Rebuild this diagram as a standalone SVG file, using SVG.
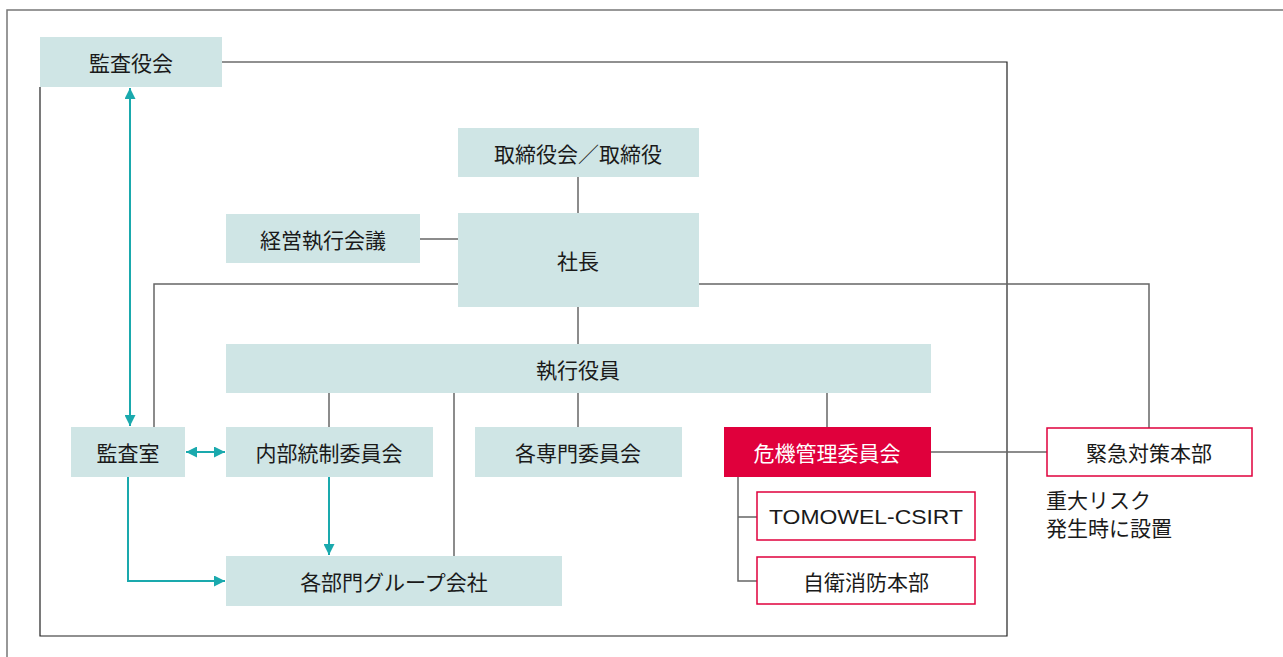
<svg xmlns="http://www.w3.org/2000/svg" width="1283" height="657" viewBox="0 0 1283 657">
<style>
.box{fill:#cfe5e5}
.red{fill:#e0003c}
.rbox{fill:#fff;stroke:#e0003c;stroke-width:1.5}
.t{font-family:"Noto Sans CJK JP","Liberation Sans",sans-serif;font-size:21px;fill:#1a1a1a;text-anchor:middle;dominant-baseline:central}
.lat{font-family:"Liberation Sans","Noto Sans CJK JP",sans-serif}
.w{fill:#fff}
.ln{fill:none;stroke:#666;stroke-width:1.5}
.fr{fill:none;stroke:#777;stroke-width:1.5}
.fb{fill:none;stroke:#222;stroke-width:1.2}
.tl{fill:none;stroke:#1aa9ad;stroke-width:2}
.note{font-family:"Noto Sans CJK JP","Liberation Sans",sans-serif;font-size:21px;fill:#1a1a1a}
</style>
<defs>
<marker id="ah" viewBox="0 0 10 10" refX="10" refY="5" markerWidth="5.5" markerHeight="5.5" orient="auto-start-reverse" markerUnits="strokeWidth">
<path d="M0,0 L10,5 L0,10 z" fill="#1aa9ad"/>
</marker>
</defs>
<rect width="1283" height="657" fill="#fff"/>
<g id="frames">
<path class="fr" d="M7,657 V10 H1290"/>
<path class="fb" d="M222,62 H1007 V636 H40 V87"/>
</g>
<g id="connectors">
<path class="ln" d="M578,177 V213"/>
<path class="ln" d="M420,239 H458"/>
<path class="ln" d="M458,284 H154 V427"/>
<path class="ln" d="M699,284 H1149 V428"/>
<path class="ln" d="M578,307 V344"/>
<path class="ln" d="M329,393 V427"/>
<path class="ln" d="M454,393 V556"/>
<path class="ln" d="M578,393 V427"/>
<path class="ln" d="M827,393 V427"/>
<path class="ln" d="M931,452 H1047"/>
<path class="ln" d="M738,477 V581 H757 M738,517 H757"/>
<path class="tl" d="M130,88 V426" marker-start="url(#ah)" marker-end="url(#ah)"/>
<path class="tl" d="M186,452 H225" marker-start="url(#ah)" marker-end="url(#ah)"/>
<path class="tl" d="M128,477 V581 H225" marker-end="url(#ah)"/>
<path class="tl" d="M329,477 V555" marker-end="url(#ah)"/>
</g>
<g id="n-kansayakukai"><rect class="box" x="40" y="37" width="182" height="50"/><text class="t" x="131" y="62">監査役会</text></g>
<g id="n-torishimariyaku"><rect class="box" x="458" y="128" width="241" height="49"/><text class="t" x="578" y="153">取締役会／取締役</text></g>
<g id="n-keiei"><rect class="box" x="226" y="214" width="194" height="49"/><text class="t" x="323" y="239">経営執行会議</text></g>
<g id="n-shacho"><rect class="box" x="458" y="213" width="241" height="94"/><text class="t" x="578" y="260">社長</text></g>
<g id="n-shikko"><rect class="box" x="226" y="344" width="705" height="49"/><text class="t" x="578" y="369">執行役員</text></g>
<g id="n-kansashitsu"><rect class="box" x="71" y="427" width="114" height="50"/><text class="t" x="128" y="452">監査室</text></g>
<g id="n-naibu"><rect class="box" x="226" y="427" width="207" height="50"/><text class="t" x="329" y="452">内部統制委員会</text></g>
<g id="n-senmon"><rect class="box" x="475" y="427" width="207" height="50"/><text class="t" x="578" y="452">各専門委員会</text></g>
<g id="n-kiki"><rect class="red" x="724" y="427" width="207" height="50"/><text class="t w" x="827" y="452">危機管理委員会</text></g>
<g id="n-kinkyu"><rect class="rbox" x="1047" y="428" width="205" height="48"/><text class="t" x="1149" y="452">緊急対策本部</text></g>
<g id="n-note"><text class="note" x="1046" y="508">重大リスク</text><text class="note" x="1046" y="536">発生時に設置</text></g>
<g id="n-csirt"><rect class="rbox" x="757" y="492" width="218" height="48"/><text class="t lat" x="866" y="516" textLength="194" lengthAdjust="spacingAndGlyphs">TOMOWEL-CSIRT</text></g>
<g id="n-jiei"><rect class="rbox" x="757" y="557" width="218" height="47"/><text class="t" x="866" y="581">自衛消防本部</text></g>
<g id="n-group"><rect class="box" x="226" y="556" width="336" height="50"/><text class="t" x="394" y="581">各部門グループ会社</text></g>
</svg>
